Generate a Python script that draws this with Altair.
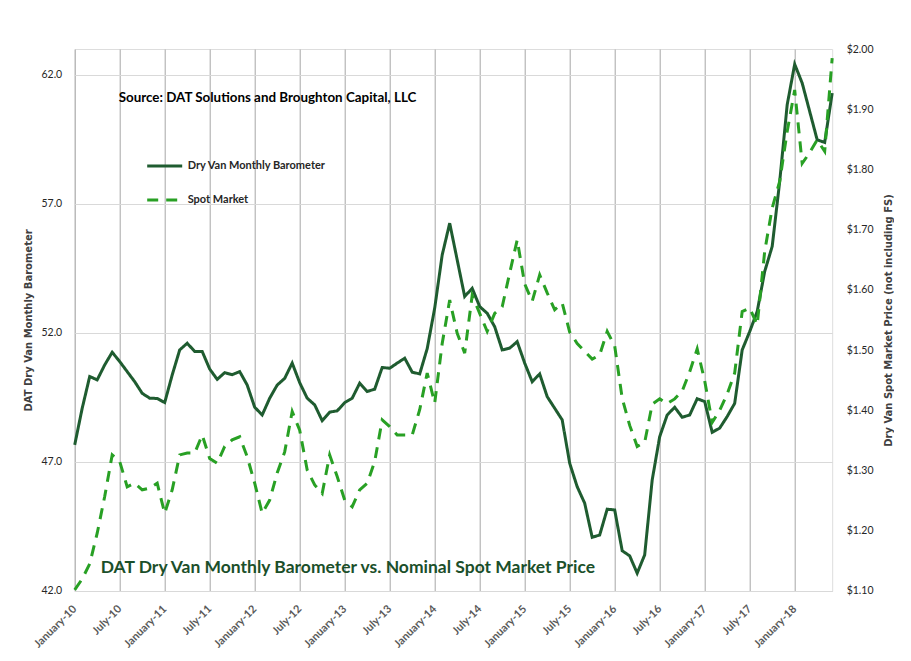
import altair as alt
import pandas as pd

# monthly series, January 2010 .. June 2018
months = pd.date_range("2010-01-01", periods=102, freq="MS")

barometer = [
    47.66, 49.08, 50.31, 50.18, 50.76, 51.25, 50.89, 50.50, 50.11, 49.66,
    49.47, 49.46, 49.30, 50.37, 51.34, 51.60, 51.28, 51.28, 50.60, 50.20,
    50.46, 50.38, 50.50, 49.98, 49.12, 48.82, 49.47, 49.98, 50.24, 50.83,
    50.07, 49.47, 49.21, 48.60, 48.93, 48.98, 49.30, 49.47, 50.05, 49.73,
    49.82, 50.66, 50.63, 50.83, 51.02, 50.48, 50.41, 51.39, 52.96, 55.02,
    56.25, 54.83, 53.41, 53.73, 53.02, 52.76, 52.24, 51.34, 51.41, 51.66,
    50.83, 50.11, 50.41, 49.53, 49.08, 48.63, 46.95, 46.04, 45.40, 44.08,
    44.17, 45.17, 45.14, 43.56, 43.36, 42.69, 43.40, 46.30, 47.98, 48.82,
    49.12, 48.73, 48.82, 49.45, 49.34, 48.15, 48.31, 48.76, 49.27, 51.34,
    52.05, 52.83, 54.38, 55.35, 57.86, 60.84, 62.41, 61.68, 60.58, 59.48,
    59.38, 61.29,
]

spot = [
    1.102, 1.120, 1.145, 1.196, 1.257, 1.326, 1.315, 1.273, 1.279, 1.268,
    1.271, 1.279, 1.229, 1.268, 1.326, 1.329, 1.329, 1.359, 1.320, 1.312,
    1.340, 1.351, 1.356, 1.323, 1.279, 1.229, 1.251, 1.296, 1.331, 1.398,
    1.367, 1.301, 1.276, 1.262, 1.326, 1.290, 1.251, 1.240, 1.268, 1.279,
    1.315, 1.384, 1.373, 1.359, 1.359, 1.359, 1.401, 1.462, 1.412, 1.511,
    1.583, 1.528, 1.495, 1.591, 1.561, 1.531, 1.561, 1.572, 1.628, 1.683,
    1.610, 1.581, 1.625, 1.595, 1.567, 1.578, 1.530, 1.511, 1.498, 1.485,
    1.492, 1.531, 1.507, 1.420, 1.375, 1.340, 1.347, 1.410, 1.419, 1.411,
    1.419, 1.432, 1.464, 1.502, 1.449, 1.380, 1.400, 1.427, 1.462, 1.564,
    1.570, 1.542, 1.664, 1.736, 1.780, 1.863, 1.932, 1.810, 1.828, 1.849,
    1.830, 1.985,
]

series_names = ["Dry Van Monthly Barometer", "Spot Market"]
left_ticks = [42, 47, 52, 57, 62]
right_ticks = [1.1, 1.2, 1.3, 1.4, 1.5, 1.6, 1.7, 1.8, 1.9, 2.0]
month_ticks = list(range(0, 97, 6))

source_text = "Source: DAT Solutions and Broughton Capital, LLC"
title_text = "DAT Dry Van Monthly Barometer vs. Nominal Spot Market Price"

DARK = "#1f5c30"
LIGHT = "#28a024"

idx = list(range(len(months)))
baro_df = pd.DataFrame({"m": idx, "value": barometer, "series": series_names[0]})
spot_df = pd.DataFrame({"m": idx, "value": spot, "series": series_names[1]})

x_enc = alt.X(
    "m:Q",
    scale=alt.Scale(domain=[0, 101], nice=False, zero=False),
    axis=alt.Axis(
        values=month_ticks,
        labelExpr="(datum.value % 12 == 0 ? 'January' : 'July') + '-' + (10 + floor(datum.value / 12))",
        labelAngle=315,
        labelAlign="right",
        labelBaseline="middle",
        labelPadding=16,
        labelOverlap=False,
        labelFont="Lato",
        labelFontWeight="bold",
        labelFontSize=11,
        labelColor="#595959",
        grid=True,
        gridColor="#a6a6a6",
        gridWidth=1,
        domainColor="#d9d9d9",
        ticks=False,
        title=None,
    ),
)

color_scale = alt.Scale(domain=series_names, range=[DARK, LIGHT])
dash_scale = alt.Scale(domain=series_names, range=[[1, 0], [11, 8]])

legend = alt.Legend(
    title=None,
    orient="none",
    legendX=71,
    legendY=98,
    direction="vertical",
    symbolType="stroke",
    symbolSize=1225,
    symbolStrokeWidth=3,
    rowPadding=9,
    labelFont="Lato",
    labelFontWeight="bold",
    labelFontSize=11,
    labelColor="#262626",
    labelOffset=4,
)

baro_line = (
    alt.Chart(baro_df)
    .mark_line(strokeWidth=3)
    .encode(
        x=x_enc,
        y=alt.Y(
            "value:Q",
            scale=alt.Scale(domain=[42, 63], nice=False, zero=False),
            axis=alt.Axis(
                values=left_ticks,
                format=".1f",
                orient="left",
                grid=True,
                gridColor="#d9d9d9",
                domain=False,
                ticks=False,
                labelPadding=13,
                labelFont="Lato",
                labelFontSize=10.5,
                labelColor="#262626",
                title="DAT Dry Van Monthly Barometer",
                titleFont="DejaVu Sans",
                titleFontWeight="bold",
                titleFontSize=10,
                titleColor="#404040",
                titlePadding=7,
            ),
        ),
        color=alt.Color("series:N", scale=color_scale, legend=legend),
        strokeDash=alt.StrokeDash("series:N", scale=dash_scale, legend=legend),
    )
)

spot_line = (
    alt.Chart(spot_df)
    .mark_line(strokeWidth=3)
    .encode(
        x=x_enc,
        y=alt.Y(
            "value:Q",
            scale=alt.Scale(domain=[1.1, 2.0], nice=False, zero=False),
            axis=alt.Axis(
                values=right_ticks,
                format="$.2f",
                orient="right",
                grid=False,
                domain=False,
                ticks=False,
                labelPadding=14,
                labelFont="Lato",
                labelFontSize=10.5,
                labelColor="#262626",
                title="Dry Van Spot Market Price (not including FS)",
                titleFont="DejaVu Sans",
                titleFontWeight="bold",
                titleFontSize=10,
                titleColor="#404040",
                titleAngle=270,
                titleBaseline="top",
                titlePadding=10,
            ),
        ),
        color=alt.Color("series:N", scale=color_scale, legend=legend),
        strokeDash=alt.StrokeDash("series:N", scale=dash_scale, legend=legend),
    )
)

source = (
    alt.Chart(pd.DataFrame({"t": [source_text]}))
    .mark_text(align="left", baseline="middle", font="Lato", fontWeight="bold",
               fontSize=13.4, color="#000000")
    .encode(text="t:N", x=alt.value(44), y=alt.value(49))
)

headline = (
    alt.Chart(pd.DataFrame({"t": [title_text]}))
    .mark_text(align="left", baseline="middle", font="Lato", fontWeight="bold",
               fontSize=17.5, color="#1b4f2a")
    .encode(text="t:N", x=alt.value(26), y=alt.value(519))
)

chart = (
    alt.layer(baro_line, spot_line, source, headline)
    .resolve_scale(y="independent")
    .properties(
        width=757.5,
        height=542,
        autosize=alt.AutoSizeParams(type="none"),
        padding={"left": 66.7, "top": 41, "right": 62, "bottom": 62},
    )
    .configure_view(stroke=None)
    .configure(background="white")
)

chart.save("out.html", embed_options={"renderer": "svg", "actions": False})
